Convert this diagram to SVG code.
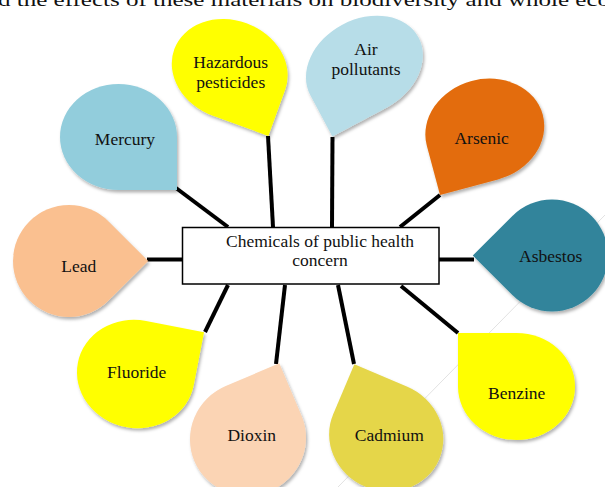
<svg xmlns="http://www.w3.org/2000/svg" xmlns:xlink="http://www.w3.org/1999/xlink" width="605" height="487" viewBox="0 0 605 487">
  <style>
    .lbl { font-family: "Liberation Serif", "Times New Roman", serif; font-size: 17.5px; fill: #111; text-anchor: middle; }
    .top { font-family: "Liberation Serif", "Times New Roman", serif; font-size: 19px; fill: #111; }
    .conn line { stroke: #000; stroke-width: 4; stroke-linecap: butt; }
  </style>
  <defs>
    <path id="drop" d="M -1 0 A 1 1 0 0 1 0 -1 A 1 1 0 0 1 1 0 L 1 1 L 0 1 A 1 1 0 0 1 -1 0 Z"/>
    <filter id="sh" x="-20%" y="-20%" width="140%" height="140%">
      <feDropShadow dx="1.5" dy="2.5" stdDeviation="1.8" flood-color="#000" flood-opacity="0.3"/>
    </filter>
  </defs>
  <rect width="605" height="487" fill="#fff"/>
  <text class="top" x="-2" y="6" textLength="612" lengthAdjust="spacingAndGlyphs">d the effects of these materials on biodiversity and whole eco</text>
  <line x1="605" y1="215" x2="338" y2="487" stroke="#e2e2e2" stroke-width="1"/>

  <g id="connectors" class="conn">
    <line x1="176" y1="188" x2="228" y2="227"/>
    <line x1="268" y1="136" x2="273" y2="227"/>
    <line x1="332.5" y1="137" x2="332" y2="227"/>
    <line x1="440" y1="195" x2="400" y2="227"/>
    <line x1="439" y1="259.5" x2="474" y2="259.5"/>
    <line x1="401" y1="286" x2="458" y2="333"/>
    <line x1="338" y1="285" x2="354" y2="364"/>
    <line x1="285" y1="285" x2="276" y2="364"/>
    <line x1="228" y1="285" x2="205" y2="332"/>
    <line x1="147" y1="259.5" x2="183" y2="259.5"/>
  </g>

  <g id="center">
    <rect x="182.5" y="227.5" width="256.5" height="56.5" fill="#fff" stroke="#000" stroke-width="1.5"/>
    <text class="lbl" x="320" y="246.7">Chemicals of public health</text>
    <text class="lbl" x="320" y="265.5">concern</text>
  </g>

  <g id="hazardous">
    <g filter="url(#sh)"><use href="#drop" transform="translate(229.7 69.5) rotate(20) scale(59 49.2)" fill="#FFFF00"/></g>
    <text class="lbl" x="230.7" y="68.3">Hazardous</text>
    <text class="lbl" x="230.7" y="88.3">pesticides</text>
  </g>
  <g id="air">
    <g filter="url(#sh)"><use href="#drop" transform="translate(364.4 66.2) rotate(62) scale(47 61.3)" fill="#B7DDE8"/></g>
    <text class="lbl" x="366" y="55">Air</text>
    <text class="lbl" x="366" y="75">pollutants</text>
  </g>
  <g id="arsenic">
    <g filter="url(#sh)"><use href="#drop" transform="translate(484.8 130.2) rotate(75) scale(51 60)" fill="#E36C0A"/></g>
    <text class="lbl" x="481.7" y="144.3">Arsenic</text>
  </g>
  <g id="asbestos">
    <g filter="url(#sh)"><use href="#drop" transform="translate(552 255.5) rotate(135) scale(56)" fill="#31849B"/></g>
    <text class="lbl" x="550.7" y="261.7">Asbestos</text>
  </g>
  <g id="benzine">
    <g filter="url(#sh)"><use href="#drop" transform="translate(516.5 386.5) rotate(180) scale(58.5 53.5)" fill="#FFFF00"/></g>
    <text class="lbl" x="516.7" y="399">Benzine</text>
  </g>
  <g id="cadmium">
    <g filter="url(#sh)"><use href="#drop" transform="translate(386.2 436.7) rotate(203) scale(57.6 54.2)" fill="#E5D649"/></g>
    <text class="lbl" x="389.3" y="441">Cadmium</text>
  </g>
  <g id="dioxin">
    <g filter="url(#sh)"><use href="#drop" transform="translate(248 438.5) rotate(-113) scale(57 58.2)" fill="#FBD4B4"/></g>
    <text class="lbl" x="251.7" y="440.7">Dioxin</text>
  </g>
  <g id="fluoride">
    <g filter="url(#sh)"><use href="#drop" transform="translate(135.8 374) rotate(-79) scale(54 59)" fill="#FFFF00"/></g>
    <text class="lbl" x="136.7" y="377.7">Fluoride</text>
  </g>
  <g id="lead">
    <g filter="url(#sh)"><use href="#drop" transform="translate(69 261) rotate(-45) scale(56)" fill="#FAC090"/></g>
    <text class="lbl" x="78.7" y="272.3">Lead</text>
  </g>
  <g id="mercury">
    <g filter="url(#sh)"><use href="#drop" transform="translate(118.5 137) scale(58.5 53)" fill="#92CDDC"/></g>
    <text class="lbl" x="125" y="145">Mercury</text>
  </g>
</svg>
